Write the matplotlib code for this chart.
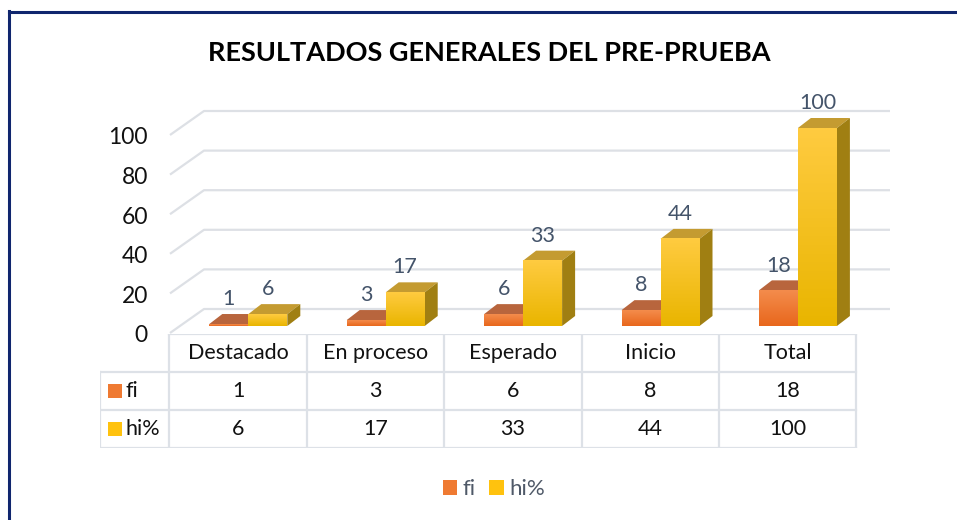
import numpy as np
import matplotlib
matplotlib.use('Agg')
import matplotlib.pyplot as plt
from matplotlib.patches import Polygon, Rectangle, Patch
from matplotlib.lines import Line2D

plt.rcParams['font.family'] = ['Lato', 'DejaVu Sans']

categories = ['Destacado', 'En proceso', 'Esperado', 'Inicio', 'Total']
fi = [1, 3, 6, 8, 18]
hi = [6, 17, 33, 44, 100]
y_ticks = [0, 20, 40, 60, 80, 100]
series_names = ['fi', 'hi%']

W, H = 957, 520
fig = plt.figure(figsize=(W / 100, H / 100), dpi=100)

# pixel calibration of the fake 3D view
cx0, step = 238, 137.4      # category centre / spacing in px
base, ppu = 326, 1.98       # px of value 0, px per unit
def px_x(p):
    return (p - cx0) / step

bar_w = 39 / step
off = 0.075
dx, dy = 13 / step, 10 / ppu
back_up = (base - 309) / ppu
front_down = (333 - base) / ppu

ax = fig.add_axes([100 / W, 1 - 340 / H, 800 / W, 250 / H])
ax.set_xlim(px_x(100), px_x(900))
ax.set_ylim((base - 340) / ppu, (base - 90) / ppu)
ax.axis('off')

# back wall gridlines
for t in y_ticks:
    ax.plot([px_x(170), px_x(204), px_x(890)],
            [t - front_down, t + back_up, t + back_up],
            color='#dde0e5', lw=1.6, zorder=1, solid_capstyle='butt')
    ax.text(px_x(148), t - front_down - 1.5, str(t), ha='right', va='center',
            fontsize=16.5, color='#111111')

def grad(c_top, c_bot, n=64):
    a = np.array(matplotlib.colors.to_rgb(c_top))
    b = np.array(matplotlib.colors.to_rgb(c_bot))
    t = np.linspace(0, 1, n)[:, None]
    return (a * (1 - t) + b * t)[:, None, :]

def bar3d(x0, v, front, top, side, z):
    x1 = x0 + bar_w
    ax.imshow(grad(*front), extent=(x0, x1, 0, v), aspect='auto',
              origin='upper', zorder=z + 0.5, interpolation='bilinear')
    ax.add_patch(Polygon([(x0, v), (x1, v), (x1 + dx, v + dy), (x0 + dx, v + dy)],
                         closed=True, fc=top, ec='none', zorder=z))
    ax.add_patch(Polygon([(x1, 0), (x1 + dx, dy), (x1 + dx, v + dy), (x1, v)],
                         closed=True, fc=side, ec='none', zorder=z))

for i in range(len(categories)):
    xf = i - bar_w + off
    xh = i + off
    bar3d(xf, fi[i], ('#f48c4c', '#e8671c'), '#b8653d', '#a8522a', 2)
    bar3d(xh, hi[i], ('#ffcb40', '#e9b500'), '#c49b31', '#a07f12', 3)
    ax.text(xf + bar_w / 2, fi[i] + dy + 7.5, str(fi[i]), ha='center', va='center',
            fontsize=15.5, color='#44546a', zorder=6)
    ax.text(xh + bar_w / 2, hi[i] + dy + 7.5, str(hi[i]), ha='center', va='center',
            fontsize=15.5, color='#44546a', zorder=6)

ax.set_xlim(px_x(100), px_x(900))
ax.set_ylim((base - 340) / ppu, (base - 90) / ppu)

# data table
tab = fig.add_axes([100 / W, 1 - 448 / H, 800 / W, 114 / H])
tab.set_xlim(px_x(100), px_x(900))
tab.set_ylim(3, 0)
tab.axis('off')
n = len(categories)
lc = '#dde1e7'
tab.plot([-0.5, n - 0.5], [0, 0], color=lc, lw=1.6)
for r in (1, 2, 3):
    tab.plot([px_x(100), n - 0.5], [r, r], color=lc, lw=1.6)
for k in range(n + 1):
    tab.plot([k - 0.5, k - 0.5], [0, 3], color=lc, lw=1.6)
tab.plot([px_x(100), px_x(100)], [1, 3], color=lc, lw=1.6)
for i, c in enumerate(categories):
    tab.text(i, 0.5, c, ha='center', va='center', fontsize=15.5, color='#111111')
    tab.text(i, 1.5, str(fi[i]), ha='center', va='center', fontsize=15.5, color='#111111')
    tab.text(i, 2.5, str(hi[i]), ha='center', va='center', fontsize=15.5, color='#111111')
key_cols = ['#ef7a32', '#ffc20e']
for r, (name, col) in enumerate(zip(series_names, key_cols)):
    tab.add_patch(Rectangle((px_x(108), r + 1.5 - 7 / 38), px_x(122) - px_x(108), 14 / 38,
                            fc=col, ec='none'))
    tab.text(px_x(126), r + 1.5, name, ha='left', va='center', fontsize=15.5, color='#111111')

# title
fig.text(489 / W, 1 - 53 / H, 'RESULTADOS GENERALES DEL PRE-PRUEBA', ha='center', va='center',
         fontsize=19.5, fontweight='bold', color='#000000')

# legend
handles = [Patch(fc=c, ec='none') for c in key_cols]
fig.legend(handles, series_names, loc='center', bbox_to_anchor=(494 / W, 1 - 489 / H), ncol=2,
           frameon=False, fontsize=16, labelcolor='#4f5968', handlelength=0.65,
           handleheight=0.65, handletextpad=0.25, columnspacing=0.6)

# chart border (left + top)
fig.add_artist(Line2D([8.5 / W, 8.5 / W], [0, 1 - 11 / H], color='#10266e', lw=2.2))
fig.add_artist(Line2D([8.5 / W, 1], [1 - 11.5 / H, 1 - 11.5 / H], color='#10266e', lw=2.2))

fig.savefig('out.png', dpi=100)
